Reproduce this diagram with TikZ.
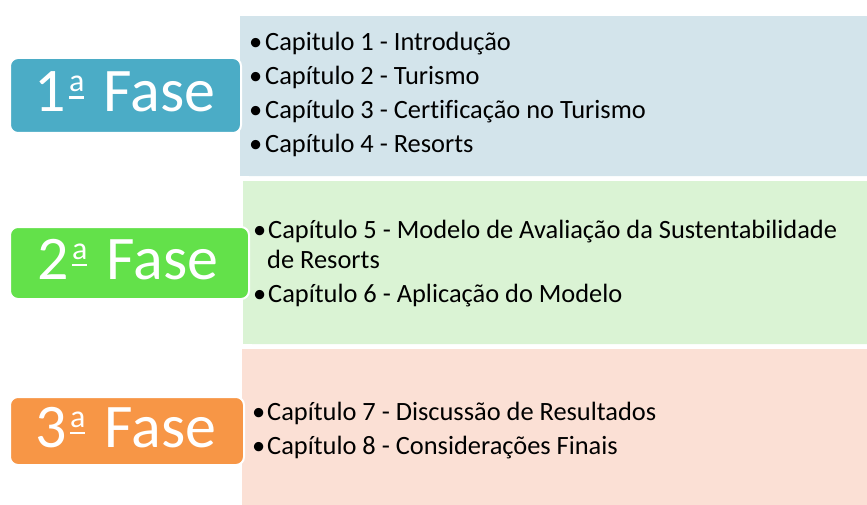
\documentclass[tikz,border=0pt]{standalone}
\usepackage{fontspec}
\setmainfont[Ligatures=NoCommon]{Carlito}
\definecolor{bluebg}{RGB}{211,228,235}
\definecolor{greenbg}{RGB}{218,243,212}
\definecolor{pinkbg}{RGB}{251,224,213}
\definecolor{bluelab}{RGB}{75,172,198}
\definecolor{greenlab}{RGB}{99,225,74}
\definecolor{orangelab}{RGB}{247,150,70}
\newcommand\myord{\kern3pt\rlap{\rule[13pt]{15pt}{2.5pt}}\raisebox{20pt}{\fontsize{32}{32}\selectfont a}\kern5pt\ }
\begin{document}
\begin{tikzpicture}[x=1pt,y=-1pt,
  cbox/.style={rectangle,rounded corners=10pt,minimum width=640pt,anchor=north west,inner sep=0pt},
  lab/.style={rectangle,rounded corners=8pt,draw=white,line width=2pt,anchor=north west,inner sep=0pt},
  labtxt/.style={inner sep=0pt,anchor=base,text=white,font=\fontsize{62}{62}\selectfont},
  bul/.style={inner sep=0pt,anchor=base west,font=\fontsize{26.4}{26.4}\selectfont},
  line/.style={inner sep=0pt,anchor=base west,font=\fontsize{26.4}{26.4}\selectfont}]
\useasboundingbox (0,0) rectangle (867,505);
\begin{scope}
\clip (0,0) rectangle (867,505);
% content boxes
\node[cbox,fill=bluebg,minimum height=160pt] (c1) at (240,16) {};
\fill[bluebg] (c1.north west) rectangle ([xshift=30pt]c1.south west);
\node[cbox,fill=greenbg,minimum height=163pt] (c2) at (243,181) {};
\fill[greenbg] (c2.north west) rectangle ([xshift=30pt]c2.south west);
\node[cbox,fill=pinkbg,minimum height=170pt] (c3) at (242,349) {};
\fill[pinkbg] (c3.north west) rectangle ([xshift=30pt]c3.south west);
\end{scope}
% phase labels
\node[lab,fill=bluelab,minimum width=231pt,minimum height=75pt] (f1) at (9,57) {};
\node[labtxt] (t1) at (125,112) {1\myord Fase};
\node[lab,fill=greenlab,minimum width=239pt,minimum height=72pt] (f2) at (9,226) {};
\node[labtxt] (t2) at (128,279) {2\myord Fase};
\node[lab,fill=orangelab,minimum width=234pt,minimum height=68pt] (f3) at (9,396) {};
\node[labtxt] (t3) at (126,447) {3\myord Fase};
% phase 1 items
\node[bul] (p1a) at (249,51) {•};
\node[line] (l1a) at (265,51) {Capitulo 1 - Introdução};
\node[bul] (p1b) at (249,85) {•};
\node[line] (l1b) at (265,85) {Capítulo 2 - Turismo};
\node[bul] (p1c) at (249,119) {•};
\node[line] (l1c) at (265,119) {Capítulo 3 - Certificação no Turismo};
\node[bul] (p1d) at (249,153) {•};
\node[line] (l1d) at (265,153) {Capítulo 4 - Resorts};
% phase 2 items
\node[bul] (p2a) at (253,238) {•};
\node[line] (l2a) at (268,238) {Capítulo 5 - Modelo de Avaliação da Sustentabilidade};
\node[line] (l2b) at (267,268) {de Resorts};
\node[bul] (p2c) at (253,302) {•};
\node[line] (l2c) at (268,302) {Capítulo 6 - Aplicação do Modelo};
% phase 3 items
\node[bul] (p3a) at (252,420) {•};
\node[line] (l3a) at (267,420) {Capítulo 7 - Discussão de Resultados};
\node[bul] (p3b) at (252,454) {•};
\node[line] (l3b) at (267,454) {Capítulo 8 - Considerações Finais};
\end{tikzpicture}
\end{document}
